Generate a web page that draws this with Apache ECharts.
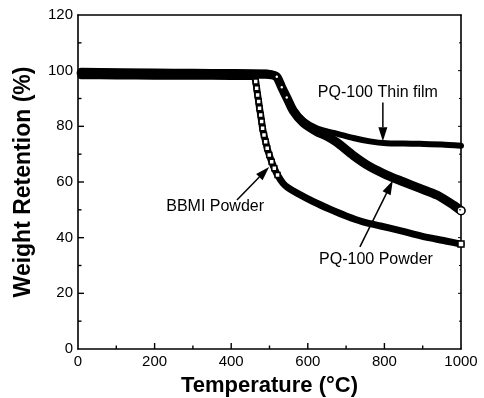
<!DOCTYPE html>
<html>
<head>
<meta charset="utf-8">
<script src="https://cdn.jsdelivr.net/npm/echarts@6/dist/echarts.min.js"></script>
<style>
  html, body { margin: 0; padding: 0; background: #fff; }
  #chart { width: 484px; height: 398px; }
</style>
</head>
<body>
<div id="chart"></div>
<script>
// Thermogravimetric curves: weight retention (%) vs temperature (°C)
var xTicks = [0, 200, 400, 600, 800, 1000];
var yTicks = [0, 20, 40, 60, 80, 100, 120];

var thinFilm = [
  [8, 100], [100, 99.8], [200, 99.7], [300, 99.6], [400, 99.5], [490, 99.3],
  [505, 99.0], [519, 98.3], [532, 94.5], [545, 90.9], [562, 86.2], [588, 82.2],
  [623, 79.3], [650, 78.2], [675, 77.4], [719, 75.8], [762, 74.6], [806, 73.9],
  [850, 73.8], [893, 73.7], [950, 73.5], [1000, 73.0]
];

var pqPowder = [
  [8, 99.2], [100, 99.1], [200, 99.0], [300, 98.9], [400, 98.8], [490, 98.7],
  [505, 98.5], [519, 97.8], [532, 94.0], [545, 90.4], [562, 85.6], [588, 81.3],
  [623, 78.1], [650, 76.4], [675, 74.3], [719, 69.5], [762, 65.5], [806, 62.5],
  [849, 60.1], [893, 57.7], [937, 55.3], [980, 51.7], [1000, 49.7]
];

var bbmiPowder = [
  [8, 98.2], [100, 98.1], [200, 98.0], [300, 98.0], [400, 97.9], [455, 97.9],
  [459.5, 98.0], [464, 96.1], [466.5, 93.7], [469, 91.3], [471.7, 88.9], [474, 86.5],
  [477, 84.1], [479.5, 81.7], [482, 79.3], [485.6, 76.9], [490, 74.5], [494, 72.1],
  [499.5, 69.7], [505.7, 67.3], [512.6, 64.9], [521, 62.5], [535, 59.6], [548, 58.0],
  [572, 56.0], [615, 52.9], [658, 50.2], [700, 47.8], [744, 45.7], [790, 44.2],
  [833, 42.8], [876, 41.3], [919, 39.9], [960, 38.8], [1000, 37.7]
];

var labelFilm = 'PQ-100 Thin film';
var labelPowder = 'PQ-100 Powder';
var labelBbmi = 'BBMI Powder';

var FONT = '"Liberation Sans", Arial, Helvetica, sans-serif';

// Wrap points as data items so only selected points carry a hollow marker
function items(arr, pick) {
  return arr.map(function (p, i) {
    var s = pick(p, i, arr.length);
    var it = { value: p };
    if (s) {
      it.symbol = s.symbol;
      it.symbolSize = s.size;
    } else {
      it.symbol = 'none';
    }
    return it;
  });
}

var chart = echarts.init(document.getElementById('chart'), null, { renderer: 'canvas' });

var frameLine = { show: true, onZero: false, lineStyle: { color: '#000', width: 1.6 } };
var numLabel = { color: '#000', fontFamily: FONT, fontSize: 15, margin: 5,
  formatter: function (v) { return String(v); } };

var option = {
  backgroundColor: '#fff',
  animation: false,
  grid: { left: 78, right: 23, top: 15, bottom: 49, show: false, containLabel: false, outerBoundsMode: 'none' },
  xAxis: [
    {
      type: 'value', position: 'bottom', min: xTicks[0], max: xTicks[xTicks.length - 1], interval: 200,
      name: 'Temperature (°C)', nameLocation: 'middle', nameGap: 26,
      nameTextStyle: { fontFamily: FONT, fontSize: 22, fontWeight: 'bold', color: '#000' },
      axisLine: frameLine, axisTick: { show: false }, splitLine: { show: false }, axisLabel: numLabel
    },
    {
      type: 'value', position: 'top', min: 0, max: 1000, interval: 200,
      axisLine: frameLine, axisTick: { show: false }, axisLabel: { show: false }, splitLine: { show: false }
    }
  ],
  yAxis: [
    {
      type: 'value', position: 'left', min: yTicks[0], max: yTicks[yTicks.length - 1], interval: 20,
      name: 'Weight Retention (%)', nameLocation: 'middle', nameGap: 43,
      nameTextStyle: { fontFamily: FONT, fontSize: 23, fontWeight: 'bold', color: '#000' },
      axisLine: frameLine, axisTick: { show: false }, splitLine: { show: false }, axisLabel: numLabel
    },
    {
      type: 'value', position: 'right', min: 0, max: 120, interval: 20,
      axisLine: frameLine, axisTick: { show: false }, axisLabel: { show: false }, splitLine: { show: false }
    }
  ],
  series: [
    {
      name: labelBbmi, type: 'line', smooth: 0.25, showAllSymbol: true,
      lineStyle: { color: '#000', width: 7, cap: 'round', join: 'round' },
      itemStyle: { color: '#fff', borderColor: '#000', borderWidth: 1.5 },
      data: items(bbmiPowder, function (p, i, n) {
        if (i === n - 1) return { symbol: 'rect', size: 6 };
        if (p[0] >= 459 && p[0] <= 522) return { symbol: 'rect', size: 5 };
        return null;
      }),
      z: 3
    },
    {
      name: labelPowder, type: 'line', smooth: 0.25, showAllSymbol: true,
      lineStyle: { color: '#000', width: 9, cap: 'round', join: 'round' },
      itemStyle: { color: '#fff', borderColor: '#000', borderWidth: 1.5 },
      data: items(pqPowder, function (p, i, n) {
        if (i === n - 1) return { symbol: 'circle', size: 8 };
        if (p[0] >= 519 && p[0] <= 545) return { symbol: 'circle', size: 4 };
        return null;
      }),
      z: 4
    },
    {
      name: labelFilm, type: 'line', smooth: 0.25, showSymbol: false,
      lineStyle: { color: '#000', width: 6, cap: 'round', join: 'round' },
      data: thinFilm,
      z: 2
    }
  ]
};

chart.setOption(option);

function px(p) { return chart.convertToPixel({ xAxisIndex: 0, yAxisIndex: 0 }, p); }

var g = [];

// Inward tick marks on the frame (major at each labelled value, minor halfway)
function tick(x1, y1, x2, y2, w) {
  g.push({ type: 'line', shape: { x1: x1, y1: y1, x2: x2, y2: y2 },
    style: { stroke: '#000', lineWidth: w }, z: 9, silent: true });
}
var x0 = xTicks[0], x1v = xTicks[xTicks.length - 1];
var y0 = yTicks[0], y1v = yTicks[yTicks.length - 1];
var dx = (xTicks[1] - xTicks[0]) / 2, dy = (yTicks[1] - yTicks[0]) / 2;
for (var t = x0 + dx; t < x1v; t += dx) {
  var major = Math.abs((t - x0) % (2 * dx)) < 1e-6;
  var p = px([t, y0]);
  tick(p[0], p[1], p[0], p[1] - (major ? 6 : 3.5), 1.4);
}
for (var v = y0 + dy; v < y1v; v += dy) {
  var majorY = Math.abs((v - y0) % (2 * dy)) < 1e-6;
  var pl = px([x0, v]);
  tick(pl[0], pl[1], pl[0] + (majorY ? 6 : 3.5), pl[1], 1.4);
  var pr = px([x1v, v]);
  tick(pr[0], pr[1], pr[0] - (majorY ? 3 : 2), pr[1], 1);
}

// Callout labels with arrows, anchored in data coordinates
function arrow(tail, tip, headLen, headW) {
  var a = px(tail), b = px(tip);
  var ddx = b[0] - a[0], ddy = b[1] - a[1];
  var L = Math.sqrt(ddx * ddx + ddy * ddy);
  var ux = ddx / L, uy = ddy / L;
  var bx = b[0] - ux * headLen, by = b[1] - uy * headLen;
  var nx = -uy, ny = ux;
  return [
    { type: 'line', shape: { x1: a[0], y1: a[1], x2: bx, y2: by },
      style: { stroke: '#000', lineWidth: 1.5 }, z: 10 },
    { type: 'polygon', shape: { points: [
        [b[0], b[1]],
        [bx + nx * headW / 2, by + ny * headW / 2],
        [bx - nx * headW / 2, by - ny * headW / 2]
      ] }, style: { fill: '#000' }, z: 10 }
  ];
}

function label(text, at) {
  var p = px(at);
  return { type: 'text', x: p[0], y: p[1], z: 10,
    style: { text: text, fill: '#000', font: '16px ' + FONT, align: 'center', verticalAlign: 'middle' } };
}

g.push(label(labelFilm, [783, 92.1]));
g = g.concat(arrow([796, 88.6], [796, 74.6], 14, 9));
g.push(label(labelBbmi, [358, 51]));
g = g.concat(arrow([415, 53.5], [499, 65.4], 14, 9));
g.push(label(labelPowder, [778, 32.3]));
g = g.concat(arrow([736, 36.7], [822, 60.5], 14, 9));

chart.setOption({ graphic: g });
</script>
</body>
</html>
